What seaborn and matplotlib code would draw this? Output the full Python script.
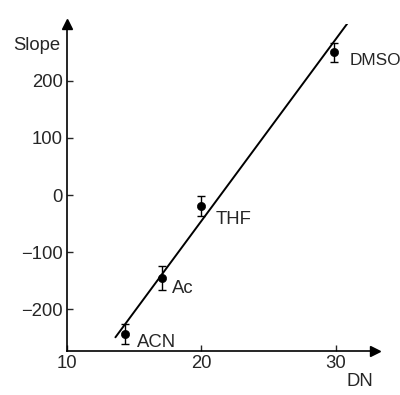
import matplotlib
matplotlib.use("Agg")
import matplotlib.pyplot as plt
import seaborn as sns
import pandas as pd

solvents = ["ACN", "Ac", "THF", "DMSO"]
dn = [14.3, 17.1, 20.0, 29.85]
slope = [-243, -146, -19, 250]
slope_err = [18, 21, 17, 17]
fit_dn = [13.6, 31.3]
fit_slope = [-249, 315]
xticks = [10, 20, 30]
yticks = [-200, -100, 0, 100, 200]

sns.set_style("white")
plt.rcParams["font.family"] = ["Liberation Sans", "DejaVu Sans"]

df = pd.DataFrame({"DN": dn, "Slope": slope, "err": slope_err, "solvent": solvents})
fit = pd.DataFrame({"DN": fit_dn, "Slope": fit_slope})

fig = plt.figure(figsize=(4.0, 3.95), dpi=100)
ax = fig.add_axes([0.1675, 0.1114, 0.77, 0.827])

sns.lineplot(data=fit, x="DN", y="Slope", ax=ax, color="black", lw=1.4)
ax.errorbar(df["DN"], df["Slope"], yerr=df["err"], fmt="none", ecolor="black",
            elinewidth=1.0, capsize=2.6, capthick=1.0)
sns.scatterplot(data=df, x="DN", y="Slope", ax=ax, color="black", s=35,
                edgecolor="black", zorder=5)

offsets = {"ACN": (8.6, -9.4), "Ac": (6.5, -10.8), "THF": (10, -13), "DMSO": (11, -9)}
sizes = {"ACN": 13.3, "Ac": 13.3, "THF": 13.3, "DMSO": 12.4}
for s, x, y in zip(solvents, dn, slope):
    ax.annotate(s, (x, y), xytext=offsets[s], textcoords="offset points",
                fontsize=sizes[s], va="baseline", ha="left")

ax.set_xlim(10, 32.9)
ax.set_ylim(-273, 299)
ax.set_xticks(xticks)
ax.set_yticks(yticks)
ax.tick_params(direction="in", length=4, width=1, labelsize=13.3, pad=3,
               bottom=True, left=True)
for sp in ["top", "right"]:
    ax.spines[sp].set_visible(False)
for sp in ["left", "bottom"]:
    ax.spines[sp].set_linewidth(1.2)
    ax.spines[sp].set_color("black")

ax.plot(1, 0, ">", color="black", ms=7, transform=ax.transAxes, clip_on=False)
ax.plot(0, 1, "^", color="black", ms=7, transform=ax.transAxes, clip_on=False)

ax.set_xlabel("")
ax.set_ylabel("")
fig.text(0.0325, 0.873, "Slope", fontsize=13.3, ha="left", va="baseline")
fig.text(0.8675, 0.0228, "DN", fontsize=13.3, ha="left", va="baseline")

fig.savefig("out.png", dpi=100)
